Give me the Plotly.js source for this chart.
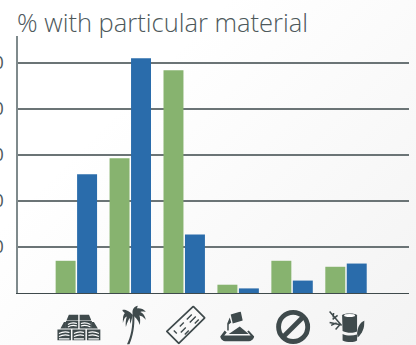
<!DOCTYPE html>
<html><head><meta charset="utf-8">
<script src="https://cdn.plot.ly/plotly-3.0.1.min.js"></script>
<style>
html,body{margin:0;padding:0;width:416px;height:345px;overflow:hidden;background:linear-gradient(135deg,#ffffff 30%,#f3f3f3 100%);}
#c{width:416px;height:345px;}
</style></head><body><div id="c"></div>
<script>
const categories = ['Brick','Palm','Wood','Cement','None','Bamboo'];
const greenValues = [7.0, 29.3, 48.4, 1.8, 7.0, 5.7];
const blueValues = [25.8, 51.0, 12.7, 1.0, 2.7, 6.4];
const tickValues = [10, 20, 30, 40, 50];
const titleText = '% with particular material';
const ink = '#3f4a4c';

const iconBricks = `<svg xmlns="http://www.w3.org/2000/svg" viewBox="0 0 44 26"><g fill="${ink}"><path d="M12 0H21.3V6H9.5ZM22.7 0H32L34.5 6H22.7Z"/><path d="M7 7.5H9V14H3.5ZM35 7.5H37L41 14H35Z"/><path d="M9 6.5H21.3V14H9ZM22.7 6.5H35V14H22.7ZM0.5 15H14V26H0.5ZM15.5 15H28.5V26H15.5ZM30 15H43.5V26H30Z"/></g><g fill="none" stroke="#fff" stroke-width="1.1"><path d="M11 10Q15 7.5 20 9M11 12.5Q15 10 20 11.5M24 9Q29 7.5 33.5 10M24 11.5Q29 10 33.5 12.5M2 19Q7 16.5 12.5 18M2 22Q7 19.5 12.5 21M2 24.5H12.5M17 19Q22 16.5 27 18M17 22Q22 19.5 27 21M17 24.5H27M31.5 18Q37 16.5 42 19M31.5 21Q37 19.5 42 22M31.5 24.5H42"/></g></svg>`;
const iconPalm = `<svg xmlns="http://www.w3.org/2000/svg" viewBox="0 0 25 39"><path d="M5 39C9 31 11 22 10.500 9L12.500 9C13 22 11 31 7.500 39Z" fill="${ink}"/><g fill="${ink}" transform="translate(-3,-1.500)"><path d="M14 11C10 6 5 5 3.500 6C4 8 5 8 6 9C4 11 4 14 4 19C5 15 6 13.500 8 12.500C7 15 6.500 19 7 23C8.500 18 10 15 11 14C11 16 11 18 11.500 20C12.500 17 13 14 14 11Z"/><path d="M14 11C13 7 14 3 19 1.500C18.500 3 18.500 3.500 18 4.500C20 4 25 4.500 27 8C24 7.500 23 7.500 21.500 8C24 9 26.500 12 27 16C24.500 12.500 22.500 12 20.500 11.500C21.500 14 21.500 17 21 21C19.500 16 16 13 14 11Z"/></g></svg>`;
const iconWood = `<svg xmlns="http://www.w3.org/2000/svg" viewBox="0 0 40 39"><g fill="none" stroke="${ink}" stroke-width="1.7"><path d="M27.500 1L39 12.500L13 38L1 26Z" stroke-linejoin="round"/><path d="M26 9L21 14M18 17L14 21M30 11L24 17M20 22L15 27M11 28L8 25M33 14L29 18M23 25L19 29" stroke-width="1.4"/></g></svg>`;
const iconCement = `<svg xmlns="http://www.w3.org/2000/svg" viewBox="0 0 35 30"><g fill="${ink}"><path d="M11 3L21 0L23 9L13 12Z"/><path d="M10 6L11.500 11L9 13L9 19L7.500 19L7.500 12Z"/><path d="M9 22.500L20 15L29 22.500Z"/><path d="M0.500 25L5 19L7 21L4.500 24H31L27.500 20L29 19L34.500 25C34 28 31 30 28 30H7C3.500 30 1 28 0.500 25Z"/></g></svg>`;
const iconNone = `<svg xmlns="http://www.w3.org/2000/svg" viewBox="0 0 36 36"><g fill="none" stroke="${ink}" stroke-width="5"><circle cx="18" cy="18" r="15"/><path d="M8 28L28 8"/></g></svg>`;
const iconBamboo = `<svg xmlns="http://www.w3.org/2000/svg" viewBox="0 0 37 32"><g fill="${ink}"><path d="M14.500 5C15 2.500 29 2.500 29.500 5V21C25 23 19 22.500 15 20.500Z"/><path d="M15 23.500C19 25.500 25 25.500 29.500 24V30C26 32.500 19 32 15 30Z"/><path d="M29.500 23C30 17 32 12 37 10C37 17 35 23 30 27Z"/></g><ellipse cx="22" cy="5" rx="5.500" ry="1.500" fill="#fff"/><g fill="none" stroke="${ink}" stroke-width="1.500"><path d="M2 1L14 15M6 2.500L5.500 7M10 5L5 9M2 12L14 14.500M12 14.500L8 19M3.500 15L9 12.500"/></g></svg>`;

const iconList = [
  [iconBricks, 57, 315, 44, 26],
  [iconPalm, 122, 306, 25, 39],
  [iconWood, 166, 306, 40, 39],
  [iconCement, 220, 312, 35, 30],
  [iconNone, 276, 310, 35, 35],
  [iconBamboo, 328, 311, 37, 32]
];
const m = {l:18, r:6.5, t:36, b:51.5};
const pw = 416-m.l-m.r, ph = 345-m.t-m.b;
const images = iconList.map(([svg,x,y,w,h]) => ({
  source:'data:image/svg+xml;charset=utf-8,'+encodeURIComponent(svg),
  xref:'paper', yref:'paper', xanchor:'left', yanchor:'top',
  x:(x-m.l)/pw, y:(345-m.b-y)/ph, sizex:w/pw, sizey:h/ph, sizing:'stretch', layer:'above'
}));

const traces = [
  {type:'bar', name:'Green', x:categories, y:greenValues, marker:{color:'#87b36f'}, hoverinfo:'x+y'},
  {type:'bar', name:'Blue', x:categories, y:blueValues, marker:{color:'#2a6cab'}, hoverinfo:'x+y'}
];
const layout = {
  width:416, height:345, margin:m, showlegend:false,
  paper_bgcolor:'rgba(0,0,0,0)', plot_bgcolor:'rgba(0,0,0,0)',
  barmode:'group', bargap:0.204, bargroupgap:0.07,
  font:{family:'"Open Sans", sans-serif', color:'#4d585b'},
  title:{text:titleText, x:17/416, xanchor:'left', y:1-23/345, yref:'container', yanchor:'middle',
    font:{family:'"Open Sans", sans-serif', size:25.5, color:'#4d585b', weight:300}},
  xaxis:{type:'category', categoryorder:'array', categoryarray:categories, range:[-1.082,6.168],
    showticklabels:false, ticks:'', showgrid:false, zeroline:false,
    showline:true, linecolor:'#3f4a4c', linewidth:1},
  yaxis:{range:[0,55.86], tickmode:'array', tickvals:tickValues, ticktext:tickValues.map(String),
    ticks:'outside', ticklen:8.5, tickcolor:'rgba(0,0,0,0)',
    tickfont:{size:18, color:'#4d585b'},
    showgrid:true, gridcolor:'#6b7476', gridwidth:1.3, zeroline:false,
    showline:true, linecolor:'#7f8a8c', linewidth:2},
  images:images
};
Plotly.newPlot('c', traces, layout, {displayModeBar:false, staticPlot:true});
</script></body></html>
